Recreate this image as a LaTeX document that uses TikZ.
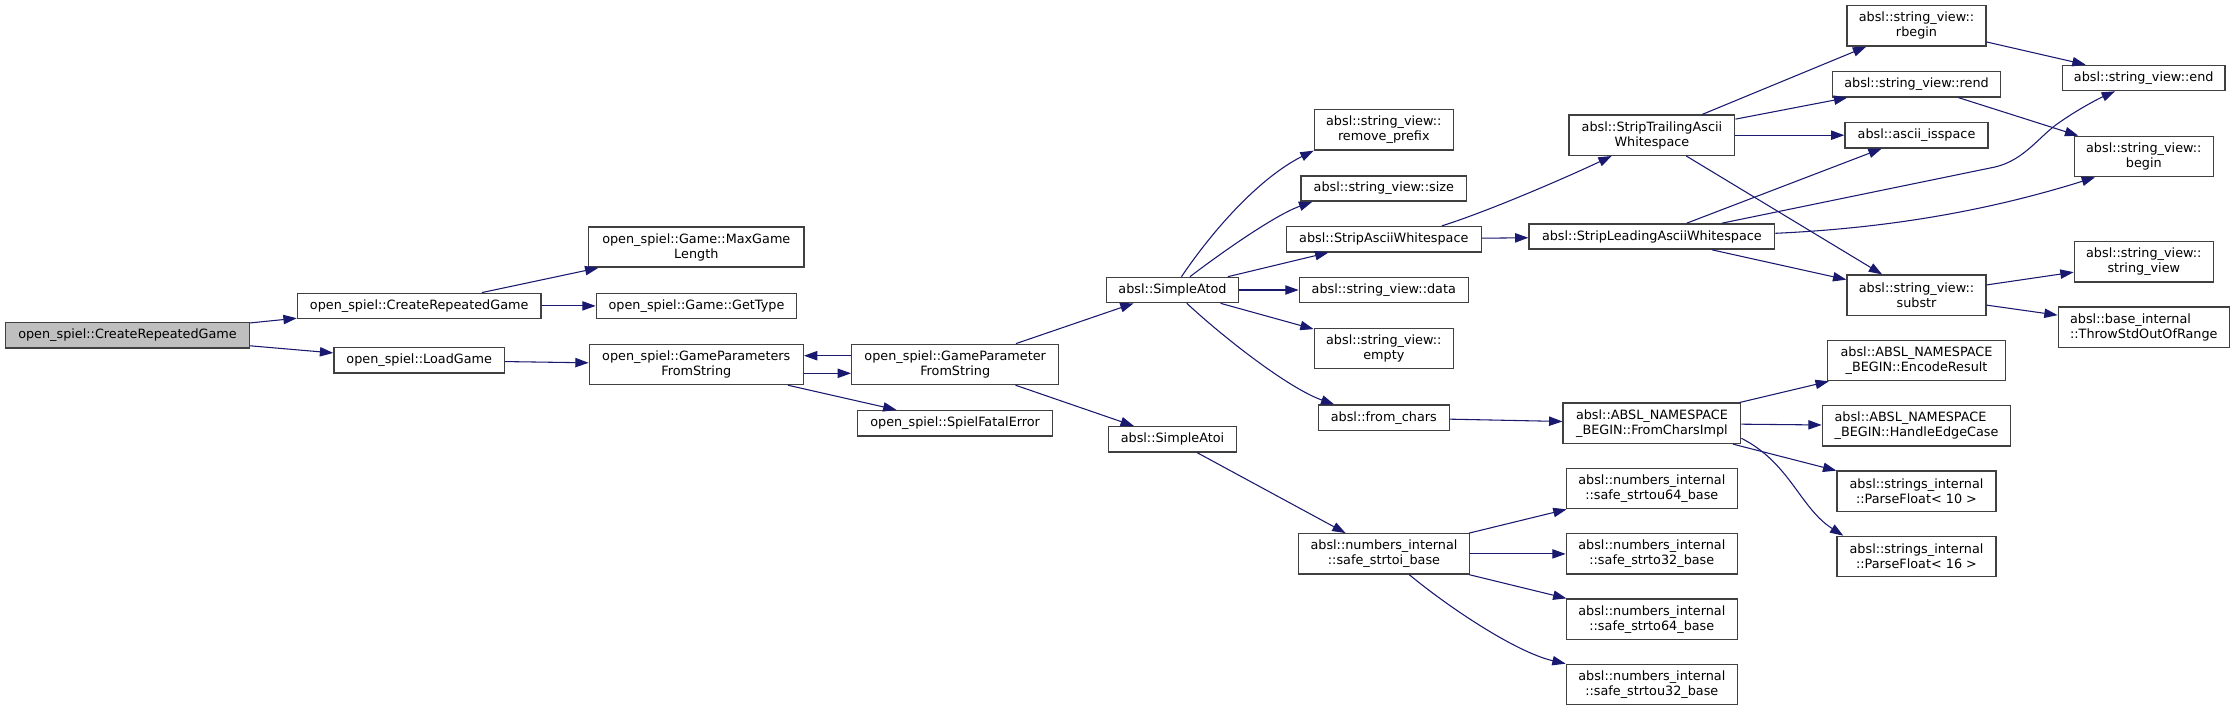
\documentclass[tikz,border=0pt]{standalone}
\usepackage{fontspec}
\setmainfont{DejaVu Sans}
\usetikzlibrary{arrows.meta,calc}
\definecolor{edgecol}{HTML}{191970}
\definecolor{boxcol}{HTML}{404040}
\definecolor{rootfill}{HTML}{BFBFBF}
\begin{document}
\begin{tikzpicture}[x=0.75pt,y=-0.75pt,
  box/.style={draw=boxcol,line width=1pt,fill=white,inner sep=0pt,align=center,
    font=\fontsize{9.6pt}{11.25pt}\selectfont,text=black},
  bw/.style={minimum width=#1*0.75pt},
  h1/.style={minimum height=25.3*0.75pt},
  h2/.style={minimum height=40.3*0.75pt},
  e/.style={draw=edgecol,line width=0.8pt,-{Triangle[length=10pt,width=7pt]},fill=none}]
\fill[white] (0,0) rectangle (2235,711);
% nodes
\node[box,bw=243.7,h1,fill=rootfill] (root) at (127.5,335.3) {open\_spiel::CreateRepeatedGame};
\node[box,bw=243.6,h1] (crg2) at (419.2,305.9) {open\_spiel::CreateRepeatedGame};
\node[box,bw=215.3,h2] (maxg) at (696.3,247) {open\_spiel::Game::MaxGame\\Length};
\node[box,bw=200.4,h1] (gettype) at (696.5,305.9) {open\_spiel::Game::GetType};
\node[box,bw=170.6,h1] (load) at (419.2,360.3) {open\_spiel::LoadGame};
\node[box,bw=214,h2] (gpfs) at (696.3,364.4) {open\_spiel::GameParameters\\FromString};
\node[box,bw=207,h2] (gpfs2) at (955.2,364.4) {open\_spiel::GameParameter\\FromString};
\node[box,bw=194.8,h1] (sfe) at (955.1,423.2) {open\_spiel::SpielFatalError};
\node[box,bw=132.4,h1] (atod) at (1172.5,290) {absl::SimpleAtod};
\node[box,bw=128.4,h1] (atoi) at (1172.5,439.3) {absl::SimpleAtoi};
\node[box,bw=139,h2] (rpre) at (1383.8,129.8) {absl::string\_view::\\remove\_prefix};
\node[box,bw=165.7,h1] (size) at (1383.8,188.5) {absl::string\_view::size};
\node[box,bw=195,h1] (saw) at (1383.8,239.2) {absl::StripAsciiWhitespace};
\node[box,bw=169,h1] (data) at (1383.8,290) {absl::string\_view::data};
\node[box,bw=139,h2] (empty) at (1383.8,348.5) {absl::string\_view::\\empty};
\node[box,bw=131,h1] (fch) at (1383.8,417.8) {absl::from\_chars};
\node[box,bw=170.6,h2] (strtoi) at (1384,553.9) {absl::numbers\_internal\\::safe\_strtoi\_base};
\node[box,bw=165.7,h2] (strail) at (1651.9,135.2) {absl::StripTrailingAscii\\Whitespace};
\node[box,bw=245.7,h1] (sl) at (1651.9,236.5) {absl::StripLeadingAsciiWhitespace};
\node[box,bw=177.7,h2] (fci) at (1651.9,423.3) {absl::ABSL\_NAMESPACE\\\_BEGIN::FromCharsImpl};
\node[box,bw=171,h2] (u64) at (1651.8,488.5) {absl::numbers\_internal\\::safe\_strtou64\_base};
\node[box,bw=171,h2] (s32) at (1651.8,553.9) {absl::numbers\_internal\\::safe\_strto32\_base};
\node[box,bw=171,h2] (s64) at (1651.8,619.2) {absl::numbers\_internal\\::safe\_strto64\_base};
\node[box,bw=171,h2] (u32) at (1651.8,684.5) {absl::numbers\_internal\\::safe\_strtou32\_base};
\node[box,bw=139,h2] (rbegin) at (1916.5,25.9) {absl::string\_view::\\rbegin};
\node[box,bw=168.4,h1] (rend) at (1916.5,84.3) {absl::string\_view::rend};
\node[box,bw=143,h1] (isspace) at (1916.5,135.2) {absl::ascii\_isspace};
\node[box,bw=139,h2] (substr) at (1916.5,295.2) {absl::string\_view::\\substr};
\node[box,bw=177.6,h2] (er) at (1916.5,360.5) {absl::ABSL\_NAMESPACE\\\_BEGIN::EncodeResult};
\node[box,bw=188.4,h2,align=left] (hec) at (1916.5,425.9) {absl::ABSL\_NAMESPACE\\\_BEGIN::HandleEdgeCase};
\node[box,bw=159,h2] (pf10) at (1916.5,491.2) {absl::strings\_internal\\::ParseFloat< 10 >};
\node[box,bw=159,h2] (pf16) at (1916.5,556.5) {absl::strings\_internal\\::ParseFloat< 16 >};
\node[box,bw=162.7,h1] (end) at (2143.7,78) {absl::string\_view::end};
\node[box,bw=139,h2] (begin) at (2143.8,156.5) {absl::string\_view::\\begin};
\node[box,bw=139,h2] (sv) at (2143.8,261.9) {absl::string\_view::\\string\_view};
\node[box,bw=171,h2,align=left] (throw) at (2143.8,327.3) {absl::base\_internal\\::ThrowStdOutOfRange};
% edges
\draw[e] (root) -- (crg2);
\draw[e] (root) -- (load);
\draw[e] (crg2) -- (maxg);
\draw[e] (crg2) -- (gettype);
\draw[e] (load) -- (gpfs);
\draw[e] ($(gpfs.east)+(0,8.9)$) -- ($(gpfs2.west)+(0,8.9)$);
\draw[e] ($(gpfs2.west)+(0,-8.7)$) -- ($(gpfs.east)+(0,-8.7)$);
\draw[e] (gpfs) -- (sfe);
\draw[e] (gpfs2) -- (atod);
\draw[e] (gpfs2) -- (atoi);
\draw[e] (atod) .. controls (1215,227) and (1261,177) .. (rpre.south west);
\draw[e] (atod) .. controls (1221,253) and (1275,215) .. ($(size.south west)+(12,0)$);
\draw[e] (atod) -- (saw);
\draw[e] (atod) -- (data);
\draw[e] (atod) -- (empty);
\draw[e] (atod) .. controls (1223,337) and (1288,388) .. ($(fch.north west)+(16.7,0)$);
\draw[e] (atoi) -- (strtoi);
\draw[e] ($(saw.north)+(58,0)$) .. controls (1489,211) and (1566.7,177.3) .. ($(strail.south)+(-40.2,0)$);
\draw[e] (saw) -- (sl);
\draw[e] (strail) -- (rbegin);
\draw[e] (strail) -- (rend);
\draw[e] (strail) -- (isspace);
\draw[e] (strail) -- (substr);
\draw[e] (sl) -- (isspace);
\draw[e] ($(sl.north)+(70,0)$) -- (1995,167) .. controls (2025,160) and (2040,135) .. (2060,122) .. controls (2080,108) and (2100,98) .. ($(end.south)+(-28.7,0)$);
\draw[e] ($(sl.east)+(0,-3.2)$) .. controls (1884.7,228.3) and (1985,211.7) .. ($(begin.south)+(-48.8,0)$);
\draw[e] (sl) -- (substr);
\draw[e] (rbegin) -- (end);
\draw[e] (rend) -- (begin);
\draw[e] (substr) -- (sv);
\draw[e] (substr) -- (throw);
\draw[e] (fch) -- (fci);
\draw[e] (fci) -- (er);
\draw[e] (fci) -- (hec);
\draw[e] (fci) -- (pf10);
\draw[e] ($(fci.east)+(0,15)$) .. controls (1790,463) and (1800,508) .. ($(pf16.north)+(-73.2,0)$);
\draw[e] (strtoi) -- (u64);
\draw[e] (strtoi) -- (s32);
\draw[e] (strtoi) -- (s64);
\draw[e] ($(strtoi.south)+(25.3,0)$) .. controls (1447,606) and (1515,652) .. (u32.north west);
\end{tikzpicture}
\end{document}
